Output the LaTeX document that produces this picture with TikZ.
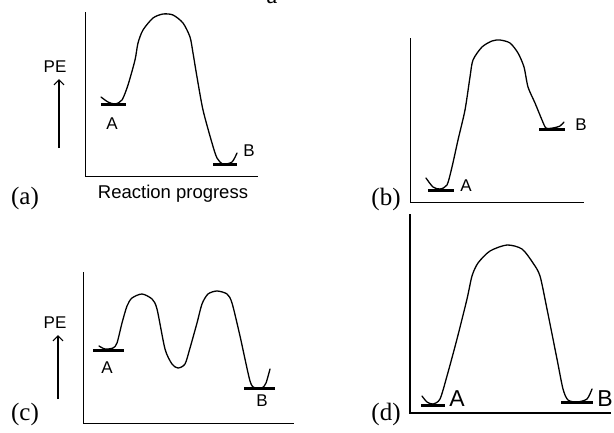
\documentclass[tikz,border=0pt]{standalone}
\usepackage{fontspec}
\setmainfont{Liberation Serif}
\setsansfont{Liberation Sans}
\usetikzlibrary{arrows.meta}
\tikzset{
  axis/.style={line width=1pt, black},
  thickaxis/.style={line width=2pt, black},
  curve/.style={line width=1.3pt, black, line join=round, line cap=round},
  level/.style={line width=3pt, black},
  lbl/.style={font=\sffamily\fontsize{17}{17}\selectfont, inner sep=0pt},
  biglbl/.style={font=\sffamily\fontsize{23}{23}\selectfont, inner sep=0pt},
  panel/.style={font=\rmfamily\fontsize{25}{25}\selectfont, inner sep=0pt},
  pearrow/.style={line width=1.2pt, -{Straight Barb[length=5pt,width=10pt]}}
}
\begin{document}
\begin{tikzpicture}[x=1pt,y=-1pt]
\useasboundingbox (0,0) rectangle (614,432);
\clip (0,0) rectangle (614,432);
\fill[white] (0,0) rectangle (614,432);
% stray letter at top
\node[panel, anchor=base] (topa) at (272,3.5) {a};

% ---------- (a) ----------
\coordinate (ay0) at (85,12);
\coordinate (ao) at (85,176);
\coordinate (ax1) at (258,176);
\draw[axis] (ay0) -- (ao) -- (ax1);
\node[lbl] (ape) at (55,67) {PE};
\coordinate (aar0) at (59,148);
\coordinate (aar1) at (59,79);
\draw[pearrow] (aar0) -- (aar1);
\coordinate (aA0) at (101,104);
\coordinate (aA1) at (126,104);
\draw[level] (aA0) -- (aA1);
\coordinate (aB0) at (213,164);
\coordinate (aB1) at (237,164);
\draw[level] (aB0) -- (aB1);
\draw[curve] plot[smooth, tension=0.45] coordinates {(101,97) (108,102) (115,104) (122,100) (128,85) (135,60) (138,43) (143,30) (153,18) (163,14) (173,15) (183,23) (190,37) (193,53) (197,77) (203,110) (212,143) (217,158) (223,164) (232,162) (237,153)};
\node[lbl] (aAl) at (112,124) {A};
\node[lbl] (aBl) at (249,151) {B};
\node[lbl, font=\sffamily\fontsize{18.5}{18.5}\selectfont] (axl) at (173,194) {Reaction progress};
\node[panel] (pa) at (25,198) {(a)};

% ---------- (b) ----------
\coordinate (by0) at (410,38);
\coordinate (bo) at (410,202);
\coordinate (bx1) at (584,202);
\draw[axis] (by0) -- (bo) -- (bx1);
\coordinate (bA0) at (428,190);
\coordinate (bA1) at (454,190);
\draw[level] (bA0) -- (bA1);
\coordinate (bB0) at (539,129);
\coordinate (bB1) at (565,129);
\draw[level] (bB0) -- (bB1);
\draw[curve] plot[smooth, tension=0.45] coordinates {(426,178) (433,187) (440,189) (447,185) (452,167) (458,140) (465,110) (470,77) (473,60) (482,47) (492,41) (500,40) (510,43) (518,53) (524,67) (528,87) (535,103) (542,120) (546,128) (553,128) (560,126) (564,122)};
\node[lbl] (bAl) at (466,186) {A};
\node[lbl] (bBl) at (581,125) {B};
\node[panel] (pb) at (386,199) {(b)};

% ---------- (c) ----------
\coordinate (cy0) at (83,272);
\coordinate (co) at (83,423);
\coordinate (cx1) at (294,423);
\draw[axis] (cy0) -- (co) -- (cx1);
\node[lbl] (cpe) at (55,323) {PE};
\coordinate (car0) at (58,399);
\coordinate (car1) at (58,335);
\draw[pearrow] (car0) -- (car1);
\coordinate (cA0) at (93,350);
\coordinate (cA1) at (124,350);
\draw[level] (cA0) -- (cA1);
\coordinate (cB0) at (244,388);
\coordinate (cB1) at (275,388);
\draw[level] (cB0) -- (cB1);
\draw[curve] plot[smooth, tension=0.45] coordinates {(99,346) (105,349) (113,348) (117,343) (122,323) (127,306) (132,298) (142,294) (152,299) (157,309) (165,349) (172,364) (178,368) (185,364) (190,348) (197,323) (202,304) (208,294) (217,291) (227,294) (232,303) (240,336) (250,381) (255,388) (262,388) (266,383) (270,369)};
\node[lbl] (cAl) at (107,368) {A};
\node[lbl] (cBl) at (262,401) {B};
\node[panel] (pc) at (25,414) {(c)};

% ---------- (d) ----------
\coordinate (dy0) at (410,214);
\coordinate (do) at (410,413);
\coordinate (dx1) at (611,413);
\draw[thickaxis] (dy0) -- (do) -- (dx1);
\coordinate (dA0) at (421,405);
\coordinate (dA1) at (445,405);
\draw[level] (dA0) -- (dA1);
\coordinate (dB0) at (561,402);
\coordinate (dB1) at (593,402);
\draw[level] (dB0) -- (dB1);
\draw[curve] plot[smooth, tension=0.45] coordinates {(422,396) (427,402) (433,404) (440,399) (447,376) (457,339) (467,299) (472,276) (478,263) (490,251) (507,245) (522,249) (533,263) (540,276) (547,309) (557,359) (563,389) (568,400) (577,402) (587,399) (592,389)};
\node[biglbl] (dAl) at (457,399) {A};
\node[biglbl] (dBl) at (605,399) {B};
\node[panel] (pd) at (386,414) {(d)};
\end{tikzpicture}
\end{document}
